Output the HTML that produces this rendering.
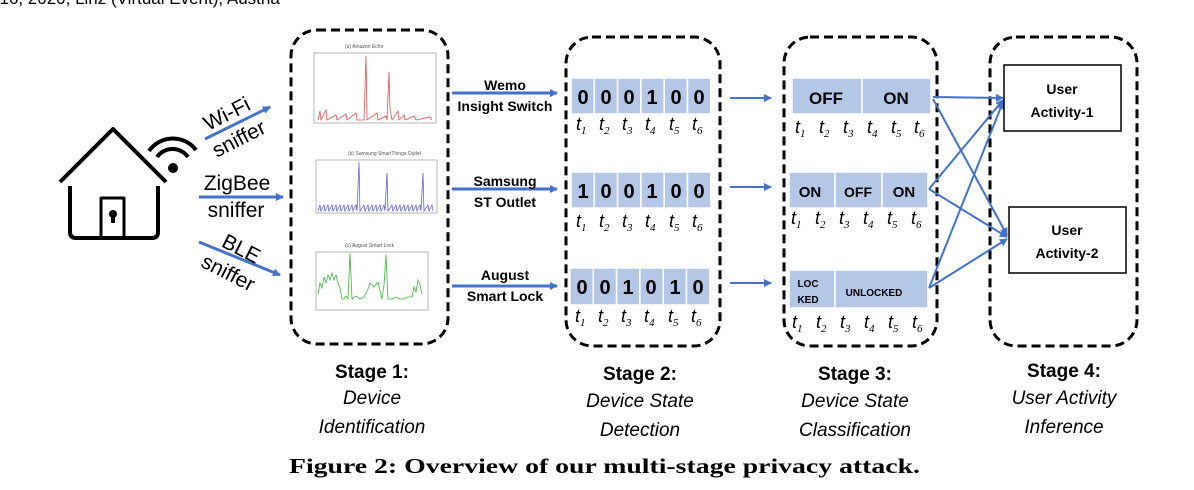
<!DOCTYPE html>
<html><head><meta charset="utf-8"><style>
html,body{margin:0;padding:0;background:#fff;}
svg{display:block;}
text{font-family:"Liberation Sans",sans-serif;}
.b{font-weight:bold;}
.i{font-style:italic;}
.t{font-family:"Liberation Serif",serif;font-style:italic;font-size:18px;}
.s{font-family:"Liberation Serif",serif;font-style:italic;font-size:11px;}
</style></head><body>
<svg width="1194" height="490" viewBox="0 0 1194 490" xmlns="http://www.w3.org/2000/svg">
<defs>
<marker id="ah" markerWidth="8" markerHeight="8" refX="7" refY="4" orient="auto" markerUnits="userSpaceOnUse"><path d="M0,0 L8,4 L0,8 z" fill="#4472c4"/></marker>
</defs>
<text x="-10" y="4" font-size="17">–16, 2020, Linz (Virtual Event), Austria</text>

<!-- house -->
<g fill="none" stroke="#000" stroke-width="4" stroke-linejoin="round">
<polyline points="60,182 113,129 166,182"/>
<path d="M70,186 V232 Q70,238 76,238 H152 Q158,238 158,232 V186"/>
<rect x="101" y="198" width="23" height="40" stroke-width="3"/>
<path d="M149,151 A29,29 0 0 1 196,150"/>
<path d="M157,157 A19,19 0 0 1 188,157"/>
</g>
<circle cx="113" cy="214" r="4"/><rect x="111" y="214" width="4" height="9"/>
<circle cx="173" cy="168" r="5"/>

<!-- sniffer arrows -->
<g stroke="#4472c4" stroke-width="3" marker-end="url(#ah)">
<line x1="205" y1="139" x2="270" y2="107"/>
<line x1="199" y1="197" x2="283" y2="197"/>
<line x1="199" y1="242" x2="280" y2="275"/>
</g>
<g font-size="21" text-anchor="middle">
<text transform="translate(230,120) rotate(-27)">Wi-Fi</text>
<text transform="translate(242,145) rotate(-27)">sniffer</text>
<text x="237" y="190">ZigBee</text>
<text x="236" y="217">sniffer</text>
<text transform="translate(238,255) rotate(27)">BLE</text>
<text transform="translate(225,279) rotate(27)">sniffer</text>
</g>

<!-- stage boxes -->
<g fill="none" stroke="#000" stroke-width="3" stroke-dasharray="9,5">
<rect x="291" y="30" width="157" height="314" rx="26"/>
<rect x="566" y="37" width="154" height="309" rx="26"/>
<rect x="784" y="37" width="153" height="309" rx="26"/>
<rect x="990" y="37" width="147" height="309" rx="26"/>
</g>

<!-- charts -->
<g font-size="5" fill="#555">
<text x="345" y="48">(a) Amazon Echo</text>
<rect x="314" y="53" width="122" height="70" fill="none" stroke="#999" stroke-width="0.7"/>
<polyline fill="none" stroke="#e05050" stroke-width="0.8" points="318,120 320,111 321,120 326,110 327,120 336,115 337,120 346,114 347,120 356,113 357,120 364,120 366,56 367,120 377,113 378,120 386,116 387,120 389,72 390,109 392,120 398,111 399,120 404,115 405,120 414,116 416,120 430,117 432,120"/>
<text x="348" y="155">(b) Samsung SmartThings Outlet</text>
<rect x="316" y="160" width="121" height="53" fill="none" stroke="#999" stroke-width="0.7"/>
<polyline fill="none" stroke="#5050e0" stroke-width="0.7" points="318,211 320,205 321,211 324,205 325,211 328,205 329,211 332,205 333,211 336,205 337,211 340,205 341,211 344,205 345,211 348,205 349,211 352,205 353,211 356,205 357,211 359,162 360,211 364,205 365,211 368,205 369,211 372,205 373,211 376,205 377,211 380,205 381,211 384,205 385,211 387,173 388,211 392,205 393,211 396,205 397,211 400,205 401,211 404,205 405,211 408,205 409,211 412,205 413,211 416,205 417,211 420,205 421,211 423,173 424,211 428,205 429,211 432,205 433,211"/>
<text x="345" y="247">(c) August Smart Lock</text>
<rect x="316" y="252" width="112" height="58" fill="none" stroke="#999" stroke-width="0.7"/>
<polyline fill="none" stroke="#40b040" stroke-width="0.8" points="318,294 320,283 322,288 324,277 326,283 328,275 330,280 332,273 334,280 336,275 338,283 340,288 342,299 344,299 346,296 348,299 350,253 352,299 356,296 360,299 364,297 368,289 370,283 374,287 378,282 382,299 384,285 386,255 388,299 392,299 396,297 400,299 404,299 408,297 412,297 414,287 416,292 418,280 420,285 422,294"/>
</g>

<!-- stage1->2 arrows -->
<g stroke="#4472c4" stroke-width="3" marker-end="url(#ah)">
<line x1="452" y1="93" x2="557" y2="93"/>
<line x1="452" y1="189" x2="557" y2="189"/>
<line x1="452" y1="286" x2="557" y2="286"/>
</g>
<g class="b" font-size="14" text-anchor="middle">
<text x="505" y="90">Wemo</text><text x="505" y="111">Insight Switch</text>
<text x="505" y="186">Samsung</text><text x="505" y="207">ST Outlet</text>
<text x="505" y="280">August</text><text x="505" y="301">Smart Lock</text>
</g>

<!-- stage2 cells -->
<g fill="#b4c7e7" stroke="#fff" stroke-width="1.5">
<rect x="571" y="78" width="23.3" height="36"/><rect x="594.3" y="78" width="23.3" height="36"/><rect x="617.6" y="78" width="23.3" height="36"/><rect x="640.9" y="78" width="23.3" height="36"/><rect x="664.2" y="78" width="23.3" height="36"/><rect x="687.5" y="78" width="23.3" height="36"/>
<rect x="571" y="172" width="23.3" height="36"/><rect x="594.3" y="172" width="23.3" height="36"/><rect x="617.6" y="172" width="23.3" height="36"/><rect x="640.9" y="172" width="23.3" height="36"/><rect x="664.2" y="172" width="23.3" height="36"/><rect x="687.5" y="172" width="23.3" height="36"/>
<rect x="570" y="268" width="23.3" height="37"/><rect x="593.3" y="268" width="23.3" height="37"/><rect x="616.6" y="268" width="23.3" height="37"/><rect x="639.9" y="268" width="23.3" height="37"/><rect x="663.2" y="268" width="23.3" height="37"/><rect x="686.5" y="268" width="23.3" height="37"/>
</g>
<g class="b" font-size="20" text-anchor="middle">
<text x="583" y="104">0</text><text x="606" y="104">0</text><text x="629" y="104">0</text><text x="652" y="104">1</text><text x="676" y="104">0</text><text x="699" y="104">0</text>
<text x="583" y="198">1</text><text x="606" y="198">0</text><text x="629" y="198">0</text><text x="652" y="198">1</text><text x="676" y="198">0</text><text x="699" y="198">0</text>
<text x="582" y="294">0</text><text x="605" y="294">0</text><text x="628" y="294">1</text><text x="651" y="294">0</text><text x="675" y="294">1</text><text x="698" y="294">0</text>
</g>
<g class="t">
<text x="576" y="130">t<tspan class="s" dy="4">1</tspan></text><text x="599" y="130">t<tspan class="s" dy="4">2</tspan></text><text x="622" y="130">t<tspan class="s" dy="4">3</tspan></text><text x="645" y="130">t<tspan class="s" dy="4">4</tspan></text><text x="669" y="130">t<tspan class="s" dy="4">5</tspan></text><text x="692" y="130">t<tspan class="s" dy="4">6</tspan></text>
<text x="576" y="227">t<tspan class="s" dy="4">1</tspan></text><text x="599" y="227">t<tspan class="s" dy="4">2</tspan></text><text x="622" y="227">t<tspan class="s" dy="4">3</tspan></text><text x="645" y="227">t<tspan class="s" dy="4">4</tspan></text><text x="669" y="227">t<tspan class="s" dy="4">5</tspan></text><text x="692" y="227">t<tspan class="s" dy="4">6</tspan></text>
<text x="575" y="322">t<tspan class="s" dy="4">1</tspan></text><text x="598" y="322">t<tspan class="s" dy="4">2</tspan></text><text x="621" y="322">t<tspan class="s" dy="4">3</tspan></text><text x="644" y="322">t<tspan class="s" dy="4">4</tspan></text><text x="668" y="322">t<tspan class="s" dy="4">5</tspan></text><text x="691" y="322">t<tspan class="s" dy="4">6</tspan></text>
</g>

<!-- stage2->3 arrows -->
<g stroke="#4472c4" stroke-width="2" marker-end="url(#ah)">
<line x1="730" y1="98" x2="771" y2="98"/>
<line x1="730" y1="187" x2="771" y2="187"/>
<line x1="730" y1="283" x2="771" y2="283"/>
</g>

<!-- stage3 cells -->
<g fill="#b4c7e7" stroke="#fff" stroke-width="1.5">
<rect x="792" y="78" width="70" height="36"/><rect x="862" y="78" width="69" height="36"/>
<rect x="789" y="172" width="46" height="36"/><rect x="835" y="172" width="47" height="36"/><rect x="882" y="172" width="46" height="36"/>
<rect x="789" y="270" width="46" height="38"/><rect x="835" y="270" width="93" height="38"/>
</g>
<g class="b" text-anchor="middle">
<text x="826" y="104" font-size="17">OFF</text><text x="896" y="104" font-size="17">ON</text>
<text x="810" y="197" font-size="15">ON</text><text x="858" y="197" font-size="14">OFF</text><text x="904" y="197" font-size="15">ON</text>
<text x="808" y="287" font-size="10">LOC</text><text x="808" y="303" font-size="10">KED</text>
<text x="874" y="296" font-size="10">UNLOCKED</text>
</g>
<g class="t">
<text x="795" y="133">t<tspan class="s" dy="4">1</tspan></text><text x="819" y="133">t<tspan class="s" dy="4">2</tspan></text><text x="843" y="133">t<tspan class="s" dy="4">3</tspan></text><text x="867" y="133">t<tspan class="s" dy="4">4</tspan></text><text x="891" y="133">t<tspan class="s" dy="4">5</tspan></text><text x="914" y="133">t<tspan class="s" dy="4">6</tspan></text>
<text x="791" y="224">t<tspan class="s" dy="4">1</tspan></text><text x="815" y="224">t<tspan class="s" dy="4">2</tspan></text><text x="839" y="224">t<tspan class="s" dy="4">3</tspan></text><text x="863" y="224">t<tspan class="s" dy="4">4</tspan></text><text x="887" y="224">t<tspan class="s" dy="4">5</tspan></text><text x="911" y="224">t<tspan class="s" dy="4">6</tspan></text>
<text x="792" y="328">t<tspan class="s" dy="4">1</tspan></text><text x="816" y="328">t<tspan class="s" dy="4">2</tspan></text><text x="840" y="328">t<tspan class="s" dy="4">3</tspan></text><text x="864" y="328">t<tspan class="s" dy="4">4</tspan></text><text x="888" y="328">t<tspan class="s" dy="4">5</tspan></text><text x="912" y="328">t<tspan class="s" dy="4">6</tspan></text>
</g>

<!-- stage3->4 lines -->
<g stroke="#4472c4" stroke-width="2" fill="none" marker-end="url(#ah)">
<line x1="933" y1="97" x2="1003" y2="98"/>
<line x1="933" y1="99" x2="1007" y2="235"/>
<line x1="929" y1="189" x2="1003" y2="100"/>
<line x1="929" y1="189" x2="1007" y2="237"/>
<line x1="929" y1="288" x2="1003" y2="102"/>
<line x1="929" y1="288" x2="1007" y2="239"/>
</g>

<!-- stage4 boxes -->
<rect x="1004" y="65" width="117" height="66" fill="#fff" stroke="#000" stroke-width="1.5"/>
<rect x="1009" y="207" width="117" height="66" fill="#fff" stroke="#000" stroke-width="1.5"/>
<g class="b" font-size="14" text-anchor="middle">
<text x="1062" y="94">User</text><text x="1062" y="117">Activity-1</text>
<text x="1067" y="235">User</text><text x="1067" y="258">Activity-2</text>
</g>

<!-- stage labels -->
<g font-size="19" text-anchor="middle">
<text class="b" x="372" y="378">Stage 1:</text>
<text class="i" x="372" y="404">Device</text>
<text class="i" x="372" y="433">Identification</text>
<text class="b" x="640" y="380">Stage 2:</text>
<text class="i" x="640" y="407">Device State</text>
<text class="i" x="640" y="436">Detection</text>
<text class="b" x="855" y="380">Stage 3:</text>
<text class="i" x="855" y="407">Device State</text>
<text class="i" x="855" y="436">Classification</text>
<text class="b" x="1064" y="377">Stage 4:</text>
<text class="i" x="1064" y="404">User Activity</text>
<text class="i" x="1064" y="433">Inference</text>
</g>
<text x="289" y="473" font-weight="bold" font-size="21" textLength="631" lengthAdjust="spacingAndGlyphs" style="font-family:'Liberation Serif',serif">Figure 2: Overview of our multi-stage privacy attack.</text>
</svg>
</body></html>
